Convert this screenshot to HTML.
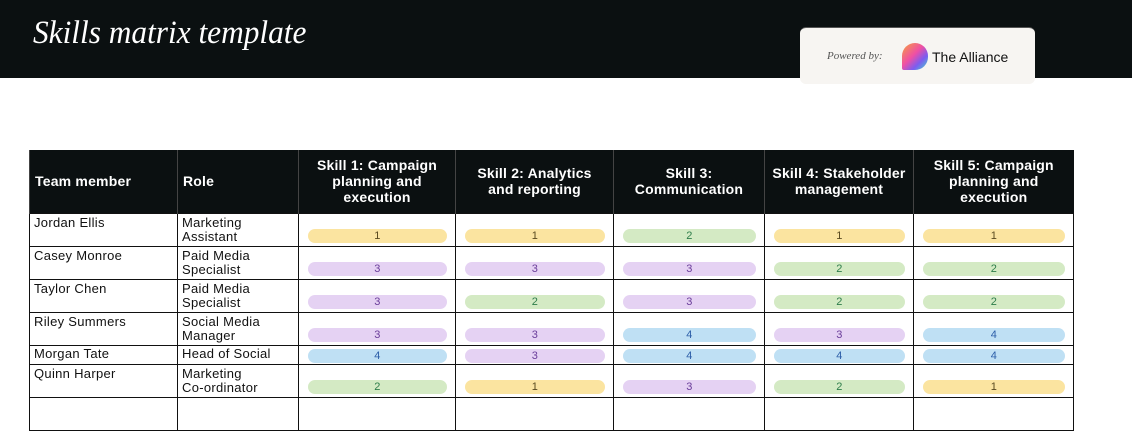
<!DOCTYPE html>
<html><head><style>
*{margin:0;padding:0;box-sizing:border-box}
body{width:1132px;height:402px;background:#fff;position:relative;overflow:hidden;font-family:"Liberation Sans",sans-serif}
.top{position:absolute;left:0;top:0;width:1132px;height:78px;background:#0b1011}
.title{position:absolute;left:33px;top:15px;font-family:"Liberation Serif",serif;font-style:italic;color:#fff;font-size:33px;transform:scaleX(0.95);transform-origin:left}
.badge{position:absolute;left:800px;top:27px;width:235px;height:57px;background:#f7f5f2;border-radius:6px;border-top:1px solid #555}
.pw{position:absolute;left:27px;top:22px;font-family:"Liberation Serif",serif;font-style:italic;font-size:11px;color:#555}
.logo{position:absolute;left:102px;top:15px;width:26px;height:27px;border-radius:13px 13px 13px 2px;background:linear-gradient(135deg,#f7a13b,#ef4fa5 45%,#7d5cf0 70%,#3fd7c8)}
.al{position:absolute;left:132px;top:21px;font-size:14px;color:#111}
table{position:absolute;left:29px;top:150px;border-collapse:collapse;table-layout:fixed}
th{background:#0b1011;color:#fff;font-size:14px;font-weight:bold;height:63px;line-height:16px;text-align:center;border-left:1px solid #444;padding:0 2px;letter-spacing:0.2px;white-space:nowrap}
th.l{text-align:left;padding-left:5px}
td{border:1px solid #111;font-size:13px;letter-spacing:0.3px;color:#111;vertical-align:top;padding:2px 4px;line-height:14px;position:relative}
td.p{vertical-align:bottom;padding:0 8px 3px 9px}
.pill{height:14px;border-radius:7px;text-align:center;font-size:11px;line-height:14px}
.y{background:#fbe4a0;color:#5a4a20}.v{background:#e5d2f3;color:#6a3d9a}.g{background:#d4eac4;color:#2e7d4a}.b{background:#bfe0f4;color:#2c5ea8}
</style></head><body>
<div class="top"><div class="title">Skills matrix template</div></div>
<div class="badge"><div class="pw">Powered by:</div><div class="logo"></div><div class="al">The Alliance</div></div>
<table>
<colgroup><col style="width:148px"><col style="width:121px"><col style="width:157px"><col style="width:158px"><col style="width:151px"><col style="width:149px"><col style="width:160px"></colgroup>
<tr><th class="l">Team member</th><th class="l">Role</th><th>Skill 1: Campaign<br>planning and<br>execution</th><th>Skill 2: Analytics<br>and reporting</th><th>Skill 3:<br>Communication</th><th>Skill 4: Stakeholder<br>management</th><th>Skill 5: Campaign<br>planning and<br>execution</th></tr>
<tr style="height:33px"><td>Jordan Ellis</td><td>Marketing Assistant</td><td class="p"><div class="pill y">1</div></td><td class="p"><div class="pill y">1</div></td><td class="p"><div class="pill g">2</div></td><td class="p"><div class="pill y">1</div></td><td class="p"><div class="pill y">1</div></td></tr>
<tr style="height:33px"><td>Casey Monroe</td><td>Paid Media Specialist</td><td class="p"><div class="pill v">3</div></td><td class="p"><div class="pill v">3</div></td><td class="p"><div class="pill v">3</div></td><td class="p"><div class="pill g">2</div></td><td class="p"><div class="pill g">2</div></td></tr>
<tr style="height:33px"><td>Taylor Chen</td><td>Paid Media Specialist</td><td class="p"><div class="pill v">3</div></td><td class="p"><div class="pill g">2</div></td><td class="p"><div class="pill v">3</div></td><td class="p"><div class="pill g">2</div></td><td class="p"><div class="pill g">2</div></td></tr>
<tr style="height:33px"><td>Riley Summers</td><td>Social Media Manager</td><td class="p"><div class="pill v">3</div></td><td class="p"><div class="pill v">3</div></td><td class="p"><div class="pill b">4</div></td><td class="p"><div class="pill v">3</div></td><td class="p"><div class="pill b">4</div></td></tr>
<tr style="height:19px"><td style="padding-top:1px">Morgan Tate</td><td style="padding-top:1px">Head of Social</td><td class="p" style="padding-bottom:1px"><div class="pill b">4</div></td><td class="p" style="padding-bottom:1px"><div class="pill v">3</div></td><td class="p" style="padding-bottom:1px"><div class="pill b">4</div></td><td class="p" style="padding-bottom:1px"><div class="pill b">4</div></td><td class="p" style="padding-bottom:1px"><div class="pill b">4</div></td></tr>
<tr style="height:33px"><td>Quinn Harper</td><td>Marketing Co&#8209;ordinator</td><td class="p"><div class="pill g">2</div></td><td class="p"><div class="pill y">1</div></td><td class="p"><div class="pill v">3</div></td><td class="p"><div class="pill g">2</div></td><td class="p"><div class="pill y">1</div></td></tr>
<tr style="height:33px"><td></td><td></td><td></td><td></td><td></td><td></td><td></td></tr>
</table>
</body></html>
